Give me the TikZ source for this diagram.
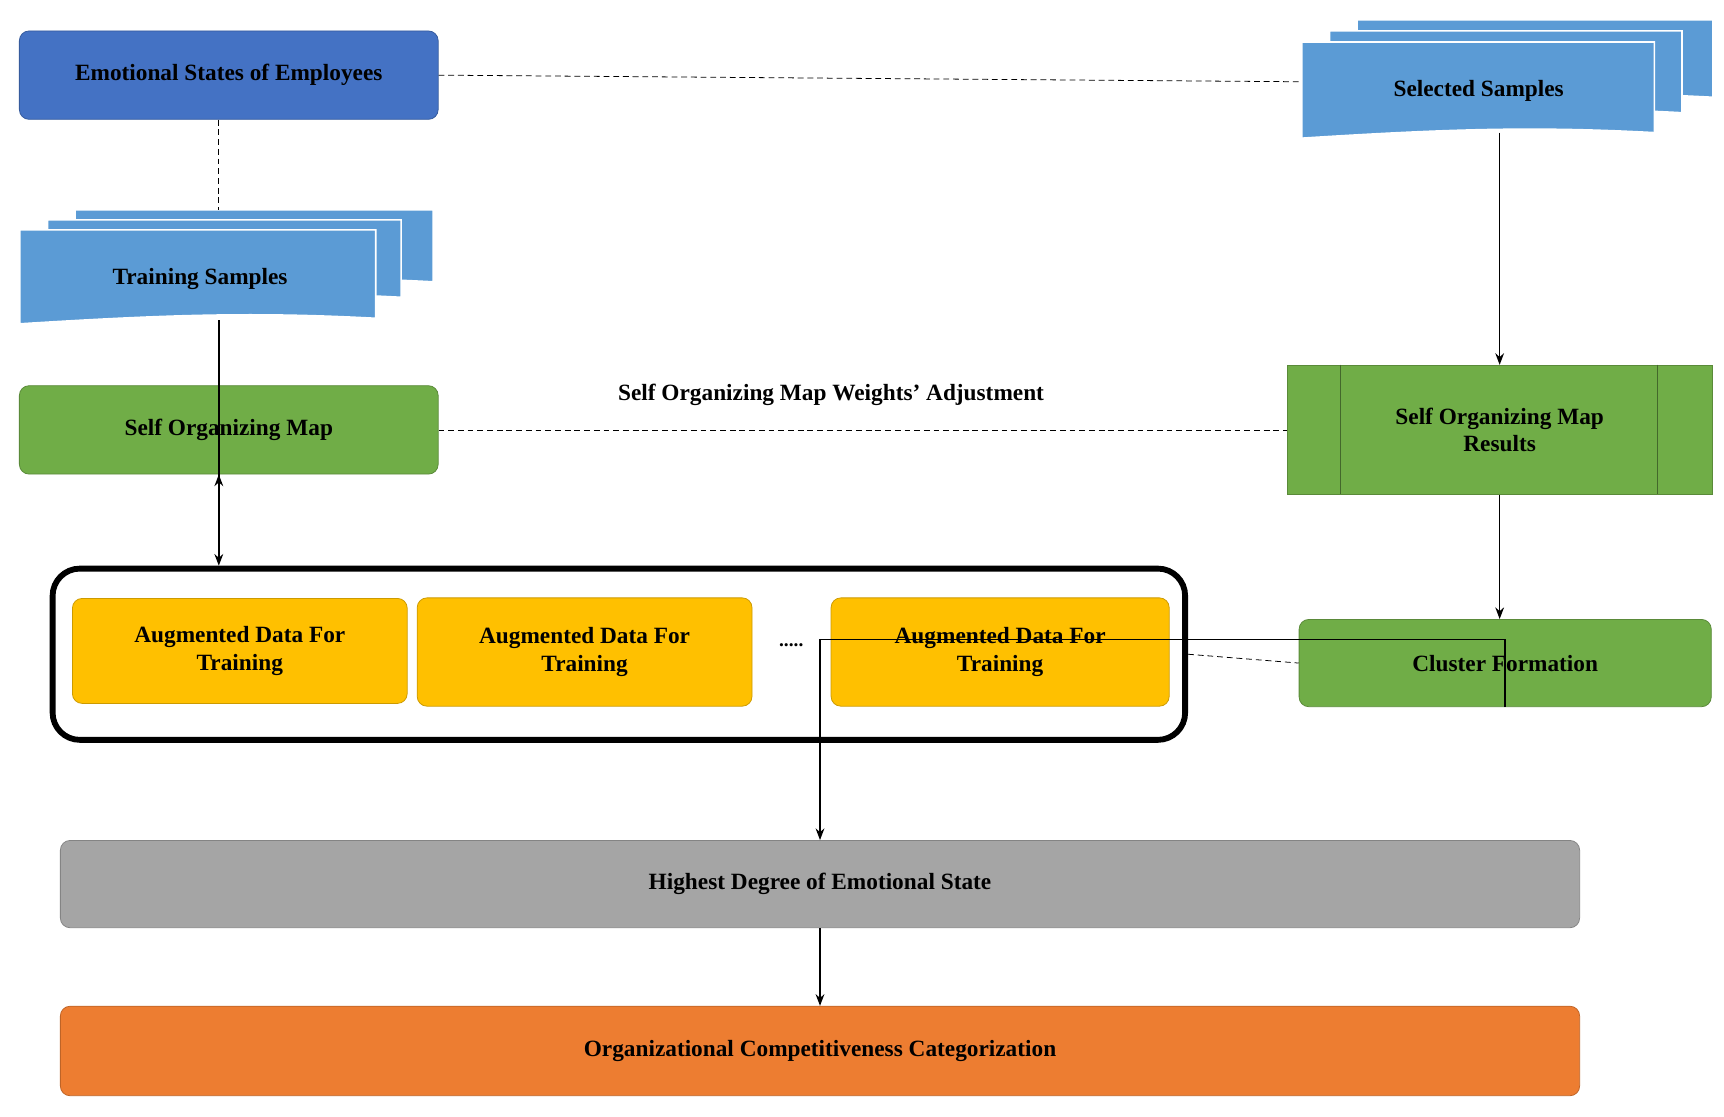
\documentclass[tikz,border=0pt]{standalone}
\usepackage{fontspec}
\setmainfont{Liberation Serif}
\usetikzlibrary{positioning, arrows.meta, calc}
\definecolor{blueA}{HTML}{4472C4}
\definecolor{blueB}{HTML}{5B9BD5}
\definecolor{greenA}{HTML}{70AD47}
\definecolor{yellowA}{HTML}{FFC000}
\definecolor{grayA}{HTML}{A5A5A5}
\definecolor{orangeA}{HTML}{ED7D31}
% one wavy document sheet: x, y (top left), width, height
\newcommand{\docsheet}[4]{%
  \fill[blueB, draw=white, line width=0.8pt] (#1,#2) -- ++(#3,0) -- ++(0,#4-10)
    .. controls ++(-0.35*#3,-6) and ++(0.4*#3,-8) .. ($(#1,#2)+(0,#4-5)$) -- cycle;}
\begin{document}
\begin{tikzpicture}[x=0.02cm, y=-0.02cm,
    box/.style={draw=#1!80!black, fill=#1, rounded corners=5pt, align=center, font=\bfseries\large},
    arrow/.style={-{Stealth[length=6pt]}, thick},
    dashed line/.style={densely dashed, thin}
]
\useasboundingbox (0,0) rectangle (1560,1010);

% Top left
\node[box=blueA, minimum width=7.58cm, minimum height=1.6cm] (emo) at (207,68) {Emotional States of Employees};

% Document stacks
\docsheet{1228}{18}{322}{80}
\docsheet{1203}{28}{319}{84}
\docsheet{1178}{38}{319}{92}
\node[font=\bfseries\large] (sel) at (1338,82) {Selected Samples};
\coordinate (selbot) at (1357,120);
\coordinate (selleft) at (1178,74);

\docsheet{68}{190}{324}{75}
\docsheet{43}{199}{320}{80}
\docsheet{18}{208}{322}{90}
\node[font=\bfseries\large] (train) at (181,252) {Training Samples};
\coordinate (traintop) at (198,190);
\coordinate (trainbot) at (198,290);

% Self organizing map
\node[box=greenA, minimum width=7.58cm, minimum height=1.6cm] (som) at (207,389) {Self Organizing Map};
\node[draw=greenA!80!black, fill=greenA, minimum width=7.7cm, minimum height=2.34cm,
      font=\bfseries\large, align=center] (res) at (1357,389) {Self Organizing Map\\Results};
\draw[greenA!60!black] (1213,330) -- (1213,447) (1500,330) -- (1500,447);
\node[font=\bfseries\large] (adj) at (752,357) {Self Organizing Map Weights' Adjustment};

% Augmented data
\node[draw, line width=3pt, rounded corners=14pt, minimum width=20.5cm, minimum height=3.1cm] (aug) at (560,592) {};
\node[box=yellowA, minimum width=6.06cm, minimum height=1.9cm] (aug1) at (217,589) {Augmented Data For\\Training};
\node[box=yellowA, minimum width=6.06cm, minimum height=1.96cm] (aug2) at (529,590) {Augmented Data For\\Training};
\node[box=yellowA, minimum width=6.12cm, minimum height=1.96cm] (aug3) at (905,590) {Augmented Data For\\Training};
\node[font=\bfseries] (dots) at (716,584) {.....};
\node[box=greenA, minimum width=7.46cm, minimum height=1.58cm] (clu) at (1362,600) {Cluster Formation};

% Bottom
\node[box=grayA, minimum width=27.5cm, minimum height=1.58cm] (high) at (742,800) {Highest Degree of Emotional State};
\node[box=orangeA, minimum width=27.5cm, minimum height=1.62cm] (org) at (742,951) {Organizational Competitiveness Categorization};

% Connections
\draw[dashed line] (emo.south -| traintop) -- (traintop);
\draw[dashed line] (emo.east) -- (selleft);
\draw[arrow] (selbot) -- (res.north);
\draw[arrow] (trainbot) -- (som.south -| trainbot) ++(0,0);
\draw[arrow] (som.south -| trainbot) -- (aug.north -| trainbot);
\draw[dashed line] (som.east) -- (res.west);
\draw[arrow] (res.south) -- (clu.north -| res.south);
\draw[dashed line] (aug.east) -- (clu.west);
\draw[arrow] (clu.south) -- ++(0,-61) -| (high.north);
\draw[arrow] (high.south) -- (org.north);
\end{tikzpicture}
\end{document}
